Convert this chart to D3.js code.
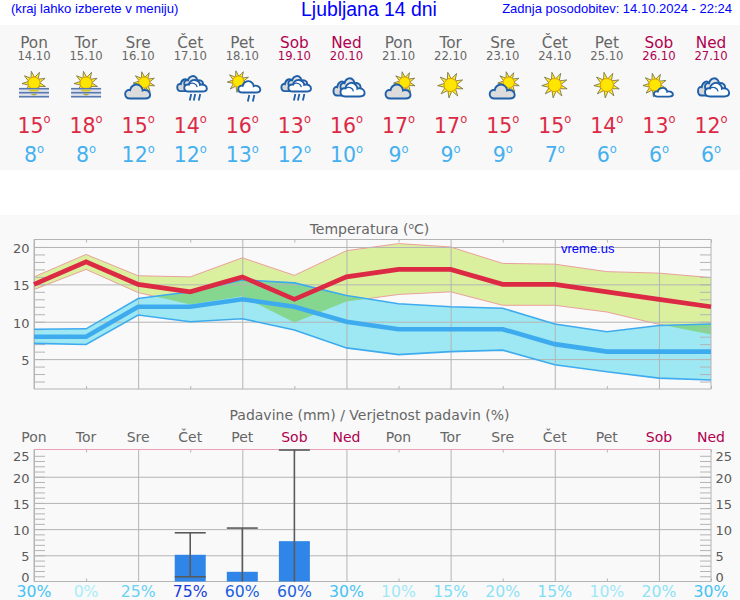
<!DOCTYPE html>
<html>
<head>
<meta charset="utf-8">
<script src="https://cdnjs.cloudflare.com/ajax/libs/d3/7.8.5/d3.min.js"></script>
<style>
  html, body { margin: 0; padding: 0; background: #fff; }
  svg { display: block; }
  text { font-family: "DejaVu Sans", sans-serif; }
  .head { font-family: "Liberation Sans", sans-serif; fill: #0000ff; }
</style>
</head>
<body>
<div id="chart"></div>
<script>
// values
var days = ["Pon", "Tor", "Sre", "Čet", "Pet", "Sob", "Ned", "Pon", "Tor", "Sre", "Čet", "Pet", "Sob", "Ned"];
var dates = ["14.10", "15.10", "16.10", "17.10", "18.10", "19.10", "20.10", "21.10", "22.10", "23.10", "24.10", "25.10", "26.10", "27.10"];
var icons = ["fog", "fog", "cloudSun", "rain", "sunRain", "rain", "clouds", "cloudSun", "sun", "cloudSun", "sun", "sun", "sunCloud", "clouds"];
var tMax = [15, 18, 15, 14, 16, 13, 16, 17, 17, 15, 15, 14, 13, 12];
var tMin = [8, 8, 12, 12, 13, 12, 10, 9, 9, 9, 7, 6, 6, 6];
var tMaxHigh = [16, 19, 16.15, 16, 18.55, 16.2, 19.5, 20.45, 20, 17.8, 17.7, 16.7, 16.5, 15.9];
var tMaxLow = [14.3, 17, 13.9, 12.3, 13.4, 9.9, 12.7, 13.65, 14, 12.2, 12.2, 11.3, 9.65, 8.3];
var tMinHigh = [9, 9.05, 13.1, 14, 15.6, 15.2, 13.5, 12.4, 12, 11.8, 9.7, 8.65, 9.5, 9.7];
var tMinLow = [7.1, 6.95, 10.9, 10, 10.4, 8.9, 6.5, 5.6, 6, 6.2, 4.25, 3.3, 2.45, 2.2];
var rain = [0, 0, 0, 5.1, 1.85, 7.7, 0, 0, 0, 0, 0, 0, 0, 0];
var rainLow = [0, 0, 0, 0.9, 0, 0, 0, 0, 0, 0, 0, 0, 0, 0];
var rainHigh = [0, 0, 0, 9.3, 10.2, 25.1, 0, 0, 0, 0, 0, 0, 0, 0];
var chance = [30, 0, 25, 75, 60, 60, 30, 10, 15, 20, 15, 10, 20, 30];
var tempTicks = [5, 10, 15, 20];
var rainTicks = [0, 5, 10, 15, 20, 25];

var width = 740, height = 600;
var left = 34, right = 711;
var idx = d3.range(days.length);

var svg = d3.select("#chart").append("svg")
    .attr("width", width)
    .attr("height", height);

// backgrounds
svg.append("rect").attr("x", 0).attr("y", 25).attr("width", width).attr("height", 145).attr("fill", "#f8f8f8");
svg.append("rect").attr("x", 0).attr("y", 215).attr("width", width).attr("height", 385).attr("fill", "#f9f9f9");

var x = d3.scalePoint().domain(idx).range([left, right]);
var dayColor = function (i) { return days[i] == "Sob" || days[i] == "Ned" ? "#b0004f" : "#666"; };

// header line
svg.append("text").attr("class", "head").attr("x", 11).attr("y", 13).attr("font-size", 13.1).text("(kraj lahko izberete v meniju)");
svg.append("text").attr("class", "head").attr("x", 369).attr("y", 16).attr("text-anchor", "middle").attr("font-size", 19.4).text("Ljubljana 14 dni");
svg.append("text").attr("class", "head").attr("x", 732).attr("y", 13).attr("text-anchor", "end").attr("font-size", 13).text("Zadnja posodobitev: 14.10.2024 - 22:24");

// forecast strip
var cols = svg.append("g").selectAll("g").data(idx).enter().append("g")
    .attr("transform", function (i) { return "translate(" + x(i) + ",0)"; });

cols.append("text").attr("y", 48).attr("text-anchor", "middle").attr("font-size", 15.3)
    .attr("fill", dayColor).text(function (i) { return days[i]; });
cols.append("text").attr("y", 60).attr("text-anchor", "middle").attr("font-size", 11.6)
    .attr("fill", function (i) { return dayColor(i); }).text(function (i) { return dates[i]; });

function degrees(sel, yPos, color, values) {
    var t = sel.append("text").attr("y", yPos).attr("text-anchor", "middle").attr("font-size", 20.5).attr("fill", color);
    t.append("tspan").text(function (i) { return values[i]; });
    t.append("tspan").attr("font-size", 11.5).attr("dy", -9.5).text("o");
}
degrees(cols, 132.5, "#dc2a45", tMax);
degrees(cols, 162, "#45b0f0", tMin);

// weather icons, drawn around the column centre
function sunIcon(g, cx, cy, r) {
    var rays = g.append("g").attr("transform", "translate(" + cx + "," + cy + ")");
    d3.range(9).forEach(function (k) {
        var a = k * 2 * Math.PI / 9 + 0.3, b = 0.3;
        var pts = [[Math.cos(a - b) * r, Math.sin(a - b) * r],
                   [Math.cos(a) * r * 2, Math.sin(a) * r * 2],
                   [Math.cos(a + b) * r, Math.sin(a + b) * r]];
        rays.append("path").attr("d", "M" + pts.join("L") + "Z")
            .attr("fill", "#ffee22").attr("stroke", "#6f6a48").attr("stroke-width", 0.8);
    });
    rays.append("circle").attr("r", r).attr("fill", "#ffe600").attr("stroke", "#e8a000").attr("stroke-width", 0.9);
}
function cloudIcon(g, cx, cy, w, h, fill) {
    g.append("path")
        .attr("transform", "translate(" + cx + "," + cy + ") scale(" + (w / 100) + "," + (h / 60) + ")")
        .attr("d", "M20 58 C5 58 0 50 0 41 C0 30 10 24 20 27 C24 6 50 -2 64 14 C68 19 70 23 70 28 C84 22 100 32 100 44 C100 54 90 58 80 58 Z")
        .attr("fill", fill)
        .attr("stroke", "#1f5fa8")
        .attr("stroke-width", 1.9)
        .attr("vector-effect", "non-scaling-stroke");
}
function drops(g, xs, y0, y1) {
    xs.forEach(function (dx) {
        g.append("line").attr("x1", dx + 1).attr("x2", dx - 0.5).attr("y1", y0).attr("y2", y1)
            .attr("stroke", "#1f5fa8").attr("stroke-width", 1.8);
    });
}
function doubleCloud(g, dx, y0, w, h) {
    cloudIcon(g, dx - 13, y0 + 3, w * 0.6, h * 0.8, "#d8d8d8");
    cloudIcon(g, dx - 6, y0, w * 0.65, h * 0.7, "#e4e4e4");
    cloudIcon(g, dx - 6, y0 + h * 0.22, w * 0.78, h * 0.78, "#ffffff");
    g.append("path").attr("d", "M" + (dx + 7) + " " + (y0 + h * 0.72) + "a5 5 0 0 0 -8 -3")
        .attr("fill", "none").attr("stroke", "#1f5fa8").attr("stroke-width", 1.3);
}
cols.each(function (i) {
    var g = d3.select(this).append("g");
    var kind = icons[i];
    if (kind == "fog") {
        sunIcon(g, 0, 83, 6);
        g.append("rect").attr("x", -15).attr("y", 88).attr("width", 30).attr("height", 9.5).attr("fill", "#dfe2ea");
        [88.7, 92.7, 96.7].forEach(function (yy) {
            g.append("line").attr("x1", -15).attr("x2", 15).attr("y1", yy).attr("y2", yy)
                .attr("stroke", "#5a78b0").attr("stroke-width", 1.6);
        });
        g.append("ellipse").attr("cx", 0).attr("cy", 90.6).attr("rx", 5).attr("ry", 1).attr("fill", "#d8c820");
        g.append("ellipse").attr("cx", 0).attr("cy", 94.6).attr("rx", 3).attr("ry", 0.8).attr("fill", "#b0a840");
    } else if (kind == "sun") {
        sunIcon(g, 0, 85, 6.5);
    } else if (kind == "cloudSun") {
        sunIcon(g, 6, 82.5, 5.5);
        cloudIcon(g, -13, 83, 25, 16, "#dcdcdc");
    } else if (kind == "rain") {
        doubleCloud(g, 0, 75, 29, 17);
        drops(g, [0, 4, 9], 94, 100.5);
    } else if (kind == "sunRain") {
        sunIcon(g, -4, 81.5, 5.5);
        cloudIcon(g, -4, 80, 22, 13, "#ffffff");
        drops(g, [6, 11], 95, 101.5);
    } else if (kind == "clouds") {
        doubleCloud(g, 0, 77, 31, 20);
    } else if (kind == "sunCloud") {
        sunIcon(g, -4, 85, 6);
        cloudIcon(g, -5, 87, 19, 10, "#ffffff");
    }
});

// temperature panel
var tTop = 239.5, tBottom = 389;
var yT = d3.scaleLinear().domain([1, 21]).range([tBottom, tTop]);

svg.append("text").attr("x", 369.5).attr("y", 234).attr("text-anchor", "middle").attr("font-size", 14).attr("fill", "#666")
    .call(function (t) {
        t.append("tspan").text("Temperatura (");
        t.append("tspan").attr("font-size", 9).attr("dy", -5).text("o");
        t.append("tspan").attr("dy", 5).text("C)");
    });

function band(low, high, scale) {
    return d3.area()
        .x(function (i) { return x(i); })
        .y0(function (i) { return scale(low[i]); })
        .y1(function (i) { return scale(high[i]); })(idx);
}
function trace(values, scale) {
    return d3.line().x(function (i) { return x(i); }).y(function (i) { return scale(values[i]); })(idx);
}

svg.append("defs").append("clipPath").attr("id", "maxBand").append("path").attr("d", band(tMaxLow, tMaxHigh, yT));

svg.append("path").attr("d", band(tMaxLow, tMaxHigh, yT)).attr("fill", "#dbf09e");
[tMaxHigh, tMaxLow].forEach(function (s) {
    svg.append("path").attr("d", trace(s, yT)).attr("fill", "none").attr("stroke", "#eaa09c").attr("stroke-width", 1);
});
svg.append("path").attr("d", band(tMinLow, tMinHigh, yT)).attr("fill", "#9de8f2");
svg.append("path").attr("d", band(tMinLow, tMinHigh, yT)).attr("fill", "#85d78f").attr("clip-path", "url(#maxBand)");

// grid and ticks shared by the two panels
function frame(scale, yTop, yBottom, majors, minors, topColor) {
    var g = svg.append("g").attr("fill", "none");
    g.append("g").attr("transform", "translate(" + left + ",0)")
        .call(d3.axisLeft(scale).tickValues(majors).tickSize(left - right).tickFormat(""));
    g.append("g").attr("transform", "translate(" + left + ",0)")
        .call(d3.axisLeft(scale).tickValues(minors).tickSize(-11).tickFormat(""));
    g.append("g").attr("transform", "translate(" + right + ",0)")
        .call(d3.axisRight(scale).tickValues(minors).tickSize(-11).tickFormat(""));
    g.append("g").attr("transform", "translate(0," + yBottom + ")")
        .call(d3.axisBottom(x).tickValues(idx.filter(function (i) { return i % 2 == 0; })).tickSize(yTop - yBottom).tickFormat(""));
    g.append("g").attr("transform", "translate(0," + yBottom + ")")
        .call(d3.axisBottom(x).tickValues(idx.filter(function (i) { return i % 2 == 1; })).tickSize(-3).tickFormat(""));
    g.append("g").attr("transform", "translate(0," + yTop + ")")
        .call(d3.axisTop(x).tickValues(idx.filter(function (i) { return i % 2 == 1; })).tickSize(-3).tickFormat(""));
    g.selectAll(".domain").remove();
    g.selectAll("line").attr("stroke", "#b4b4b4").attr("stroke-width", 1);
    g.append("path").attr("d", "M" + left + " " + yTop + "V" + yBottom + "H" + right + "V" + yTop)
        .attr("stroke", "#b4b4b4");
    g.append("line").attr("x1", left).attr("x2", right).attr("y1", yTop).attr("y2", yTop)
        .attr("stroke", topColor);
}
frame(yT, tTop, tBottom, tempTicks, d3.range(2, 21), "#b4b4b4");

svg.append("g").selectAll("text").data(tempTicks).enter().append("text")
    .attr("x", 29.5).attr("y", function (d) { return yT(d) + 6; })
    .attr("text-anchor", "end").attr("font-size", 13).attr("fill", "#5a5a5a")
    .text(function (d) { return d; });

[tMinHigh, tMinLow].forEach(function (s) {
    svg.append("path").attr("d", trace(s, yT)).attr("fill", "none").attr("stroke", "#3fabef").attr("stroke-width", 1.6);
});
svg.append("path").attr("d", trace(tMin, yT)).attr("fill", "none").attr("stroke", "#3fabef").attr("stroke-width", 4.6);
svg.append("path").attr("d", trace(tMax, yT)).attr("fill", "none").attr("stroke", "#dc2a45").attr("stroke-width", 4.7);

svg.append("text").attr("class", "head").attr("x", 561).attr("y", 253).attr("font-size", 13).text("vreme.us");

// precipitation panel
var rTop = 449.5, rBottom = 581.5;
var yR = d3.scaleLinear().domain([0, 25.2]).range([rBottom, rTop]);

svg.append("text").attr("x", 369.5).attr("y", 420).attr("text-anchor", "middle").attr("font-size", 14).attr("fill", "#666")
    .text("Padavine (mm) / Verjetnost padavin (%)");

svg.append("g").selectAll("text").data(idx).enter().append("text")
    .attr("x", function (i) { return x(i); }).attr("y", 442)
    .attr("text-anchor", "middle").attr("font-size", 14).attr("fill", dayColor)
    .text(function (i) { return days[i]; });

frame(yR, rTop, rBottom, rainTicks.slice(1, 5), d3.range(1, 25), "#e8a0bc");

// labels at the ends of the scale are pushed inside the panel
function rainLabelY(d) { return Math.max(rTop + 11, Math.min(rBottom, yR(d) + 6)); }
[29.5, 715.5].forEach(function (xPos, k) {
    svg.append("g").selectAll("text").data(rainTicks).enter().append("text")
        .attr("x", xPos).attr("y", rainLabelY)
        .attr("text-anchor", k == 0 ? "end" : "start").attr("font-size", 13).attr("fill", "#5a5a5a")
        .text(function (d) { return d; });
});

var wet = idx.filter(function (i) { return rain[i] > 0; });
svg.append("g").selectAll("rect").data(wet).enter().append("rect")
    .attr("x", function (i) { return x(i) - 15.5; })
    .attr("width", 31)
    .attr("y", function (i) { return yR(rain[i]); })
    .attr("height", function (i) { return rBottom - yR(rain[i]); })
    .attr("fill", "#2f86e8");

var whisk = svg.append("g").attr("stroke", "#5a5a5a").attr("stroke-width", 1.6);
wet.forEach(function (i) {
    whisk.append("line").attr("x1", x(i)).attr("x2", x(i)).attr("y1", yR(rainLow[i])).attr("y2", yR(rainHigh[i]));
    whisk.append("line").attr("x1", x(i) - 15.5).attr("x2", x(i) + 15.5).attr("y1", yR(rainHigh[i])).attr("y2", yR(rainHigh[i]));
    if (rainLow[i] > 0) {
        whisk.append("line").attr("x1", x(i) - 15.5).attr("x2", x(i) + 15.5).attr("y1", yR(rainLow[i])).attr("y2", yR(rainLow[i]));
    }
});

// chance of rain, darker for the likelier days
var chanceColor = d3.scaleOrdinal()
    .domain([0, 10, 15, 20, 25, 30, 60, 75])
    .range(["#a8eef9", "#9fe8f6", "#7fdcf5", "#8ce2f6", "#66d2f5", "#45c3f5", "#2060e0", "#1a3ee0"]);

svg.append("g").selectAll("text").data(idx).enter().append("text")
    .attr("x", function (i) { return x(i); }).attr("y", 596.5)
    .attr("text-anchor", "middle").attr("font-size", 15.7)
    .attr("fill", function (i) { return chanceColor(chance[i]); })
    .text(function (i) { return chance[i] + "%"; });
</script>
</body>
</html>
